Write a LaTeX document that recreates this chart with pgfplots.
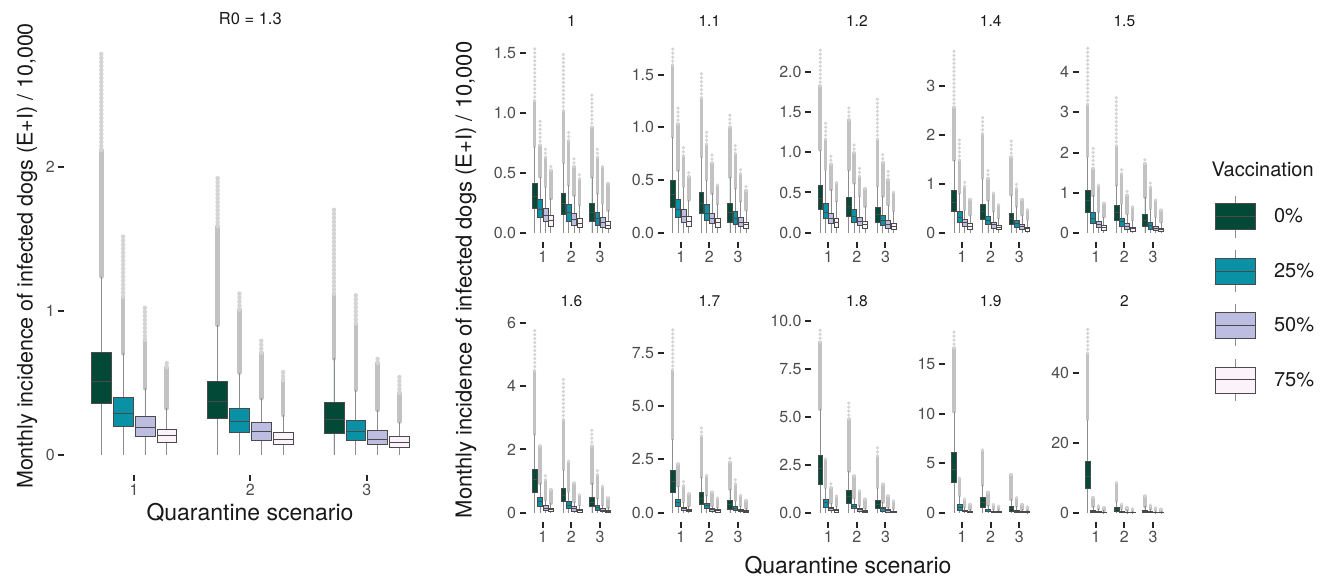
\documentclass[border=0pt]{standalone}
\usepackage{fontspec}
\setmainfont{TeX Gyre Heros}
\usepackage{pgfplots}
\usepackage{pgfplotstable}
\pgfplotsset{compat=1.18}
\usepgfplotslibrary{statistics}

\definecolor{v0}{HTML}{024A37}
\definecolor{v1}{HTML}{0A91A5}
\definecolor{v2}{HTML}{BDBDE2}
\definecolor{v3}{HTML}{FCF3FA}
\definecolor{boxedge}{HTML}{4A4A4A}
\definecolor{whisk}{HTML}{8C8C8C}
\definecolor{densec}{HTML}{C2C2C2}
\definecolor{sparsec}{HTML}{D4D4D4}
\definecolor{tlab}{HTML}{4D4D4D}
\definecolor{tickc}{HTML}{262626}

\newcommand\fs[1]{\fontsize{#1}{#1}\selectfont}

% columns: x lw lq med uq uw dn(dense outliers top) sp(sparse outliers top)
\pgfplotstableread{
x lw lq med uq uw dn sp
0.71875 0 0.359 0.514 0.714 1.24 2.12 2.79
0.90625 0 0.20 0.29 0.401 0.707 1.10 1.52
1.09375 0 0.127 0.19 0.267 0.463 0.80 1.05
1.28125 0 0.086 0.132 0.181 0.324 0.61 0.65
1.71875 0 0.253 0.371 0.514 0.904 1.59 1.93
1.90625 0 0.155 0.232 0.324 0.572 1.01 1.14
2.09375 0 0.104 0.16 0.225 0.394 0.71 0.82
2.28125 0 0.074 0.111 0.158 0.278 0.52 0.58
2.71875 0 0.151 0.248 0.364 0.672 1.12 1.73
2.90625 0 0.10 0.162 0.239 0.452 0.915 1.12
3.09375 0 0.074 0.111 0.169 0.313 0.64 0.68
3.28125 0 0.053 0.086 0.127 0.232 0.43 0.56
}\Ta
\pgfplotstableread{
x lw lq med uq uw dn sp
0.71875 0 0.203 0.30 0.417 0.717 1.10 1.54
0.90625 0 0.133 0.194 0.278 0.467 0.73 0.95
1.09375 0 0.092 0.147 0.203 0.383 0.63 0.72
1.28125 0 0.056 0.10 0.147 0.286 0.52 0.58
1.71875 0 0.156 0.244 0.328 0.583 1.02 1.50
1.90625 0 0.10 0.167 0.239 0.397 0.77 0.86
2.09375 0 0.064 0.111 0.167 0.314 0.55 0.63
2.28125 0 0.044 0.078 0.119 0.23 0.45 0.49
2.71875 0 0.092 0.167 0.244 0.467 0.88 1.16
2.90625 0 0.064 0.119 0.175 0.328 0.63 0.72
3.09375 0 0.05 0.083 0.128 0.244 0.55 0.58
3.28125 0 0.036 0.064 0.10 0.189 0.41 0.44
}\Tb
\pgfplotstableread{
x lw lq med uq uw dn sp
0.71875 0 0.244 0.36 0.50 0.906 1.59 1.75
0.90625 0 0.15 0.225 0.319 0.594 1.03 1.19
1.09375 0 0.10 0.156 0.225 0.4375 0.73 0.83
1.28125 0 0.0625 0.11 0.156 0.3125 0.53 0.58
1.71875 0 0.181 0.28 0.384 0.72 1.28 1.54
1.90625 0 0.119 0.1875 0.266 0.50 0.84 0.97
2.09375 0 0.0875 0.1375 0.1875 0.375 0.66 0.75
2.28125 0 0.056 0.094 0.14 0.27 0.45 0.48
2.71875 0 0.10 0.19 0.28 0.53 1.0 1.12
2.90625 0 0.078 0.131 0.20 0.42 0.75 0.84
3.09375 0 0.0625 0.10 0.147 0.297 0.56 0.62
3.28125 0 0.047 0.078 0.103 0.22 0.40 0.45
}\Tc
\pgfplotstableread{
x lw lq med uq uw dn sp
0.71875 0 0.298 0.42 0.591 1.03 1.82 2.29
0.90625 0 0.174 0.256 0.364 0.785 1.16 1.40
1.09375 0 0.124 0.174 0.24 0.537 0.85 0.95
1.28125 0 0.074 0.124 0.174 0.39 0.62 0.66
1.71875 0 0.207 0.33 0.442 0.785 1.40 1.57
1.90625 0 0.132 0.207 0.289 0.62 0.99 1.12
2.09375 0 0.091 0.145 0.198 0.455 0.70 0.81
2.28125 0 0.058 0.103 0.145 0.33 0.545 0.58
2.71875 0 0.132 0.227 0.318 0.58 1.16 1.67
2.90625 0 0.091 0.153 0.219 0.455 0.87 0.99
3.09375 0 0.062 0.103 0.157 0.35 0.66 0.76
3.28125 0 0.041 0.083 0.116 0.27 0.50 0.54
}\Td
\pgfplotstableread{
x lw lq med uq uw dn sp
0.71875 0 0.44 0.62 0.865 1.49 2.57 3.78
0.90625 0 0.216 0.318 0.44 0.81 1.49 1.96
1.09375 0 0.135 0.203 0.27 0.473 0.95 1.05
1.28125 0 0.081 0.135 0.19 0.37 0.68 0.74
1.71875 0 0.27 0.44 0.588 1.11 2.03 2.40
1.90625 0 0.169 0.25 0.338 0.676 1.11 1.28
2.09375 0 0.101 0.169 0.223 0.44 0.81 0.88
2.28125 0 0.068 0.115 0.155 0.30 0.57 0.64
2.71875 0 0.169 0.284 0.405 0.78 1.55 1.93
2.90625 0 0.115 0.182 0.257 0.54 0.91 1.01
3.09375 0 0.068 0.122 0.169 0.37 0.68 0.74
3.28125 0 0.04 0.081 0.122 0.27 0.47 0.51
}\Te
\pgfplotstableread{
x lw lq med uq uw dn sp
0.71875 0 0.52 0.80 1.07 1.90 3.2 4.6
0.90625 0 0.23 0.355 0.50 0.93 1.6 2.13
1.09375 0 0.13 0.207 0.29 0.52 1.18 1.26
1.28125 0 0.066 0.13 0.19 0.40 0.73 0.81
1.71875 0 0.314 0.50 0.686 1.18 2.17 3.37
1.90625 0 0.165 0.27 0.372 0.727 1.47 1.64
2.09375 0 0.10 0.165 0.248 0.48 0.93 1.06
2.28125 0 0.05 0.10 0.149 0.31 0.64 0.69
2.71875 0 0.174 0.314 0.455 0.89 1.72 1.88
2.90625 0 0.10 0.19 0.273 0.60 1.14 1.26
3.09375 0 0.066 0.116 0.174 0.40 0.81 0.89
3.28125 0 0.033 0.074 0.116 0.27 0.56 0.64
}\Tf
\pgfplotstableread{
x lw lq med uq uw dn sp
0.71875 0 0.635 1.06 1.376 2.47 4.48 5.82
0.90625 0 0.212 0.35 0.487 0.93 2.1 2.2
1.09375 0 0.085 0.148 0.222 0.40 1.04 1.25
1.28125 0 0.042 0.095 0.148 0.30 0.72 0.77
1.71875 0 0.35 0.56 0.77 1.35 2.94 4.26
1.90625 0 0.138 0.243 0.37 0.67 1.62 1.72
2.09375 0 0.063 0.127 0.19 0.35 0.93 1.04
2.28125 0 0.02 0.074 0.116 0.24 0.56 0.67
2.71875 0 0.19 0.328 0.476 0.93 2.1 2.68
2.90625 0 0.085 0.17 0.243 0.455 1.2 1.35
3.09375 0 0.042 0.085 0.127 0.24 0.83 0.93
3.28125 0 0.01 0.053 0.085 0.17 0.46 0.51
}\Tg
\pgfplotstableread{
x lw lq med uq uw dn sp
0.71875 0 0.96 1.45 2.0 3.45 6.7 8.65
0.90625 0 0.31 0.50 0.65 1.27 2.28 2.44
1.09375 0 0.11 0.186 0.264 0.5 1.27 1.5
1.28125 0 0.062 0.124 0.186 0.34 0.88 1.04
1.71875 0 0.42 0.68 0.963 1.66 3.6 3.99
1.90625 0 0.217 0.34 0.45 0.81 1.74 1.89
2.09375 0 0.093 0.155 0.217 0.34 0.96 1.04
2.28125 0 0.047 0.108 0.155 0.26 0.68 0.81
2.71875 0 0.186 0.37 0.575 1.12 2.36 2.67
2.90625 0 0.124 0.217 0.31 0.57 1.35 1.58
3.09375 0 0.062 0.11 0.155 0.31 0.81 0.96
3.28125 0 0.031 0.078 0.108 0.217 0.57 0.65
}\Th
\pgfplotstableread{
x lw lq med uq uw dn sp
0.71875 0 1.48 2.3 3.0 5.39 8.87 9.6
0.90625 0 0.31 0.52 0.70 1.3 2.78 2.95
1.09375 0 0.12 0.21 0.30 0.52 1.3 1.56
1.28125 0 0.052 0.12 0.174 0.35 0.87 1.04
1.71875 0 0.52 0.83 1.165 2.17 4.87 5.74
1.90625 0 0.21 0.31 0.435 0.78 1.91 2.09
2.09375 0 0.087 0.157 0.226 0.38 1.13 1.3
2.28125 0 0.035 0.087 0.139 0.26 0.70 0.78
2.71875 0 0.226 0.435 0.643 1.3 2.96 3.51
2.90625 0 0.104 0.21 0.31 0.556 1.48 1.65
3.09375 0 0.052 0.104 0.157 0.31 0.87 1.04
3.28125 0 0.017 0.052 0.104 0.21 0.61 0.70
}\Ti
\pgfplotstableread{
x lw lq med uq uw dn sp
0.71875 0 3.05 4.4 6.06 10.2 16.6 18.6
0.90625 0 0.284 0.53 0.816 1.7 3.48 3.65
1.09375 0 0.106 0.2 0.284 0.57 1.35 1.52
1.28125 0 0.035 0.106 0.177 0.35 0.82 0.99
1.71875 0 0.57 1.06 1.52 2.77 6.31 6.67
1.90625 0 0.142 0.284 0.39 0.82 2.06 2.41
2.09375 0 0.07 0.106 0.177 0.35 0.82 0.99
2.28125 0 0.035 0.07 0.142 0.28 0.64 0.82
2.71875 0 0.142 0.39 0.64 1.35 3.83 4.0
2.90625 0 0.07 0.177 0.284 0.64 1.52 1.7
3.09375 0 0.035 0.106 0.142 0.35 0.82 0.99
3.28125 0 0.017 0.05 0.106 0.25 0.57 0.71
}\Tj
\pgfplotstableread{
x lw lq med uq uw dn sp
0.71875 0 7.14 10.5 14.8 26.7 45.7 52.9
0.90625 0 0.19 0.38 0.67 1.9 4.3 4.8
1.09375 0 0.1 0.19 0.38 0.95 1.9 2.4
1.28125 0 0.05 0.1 0.28 0.67 1.43 1.7
1.71875 0 0.48 0.95 1.71 3.33 8.57 9.5
1.90625 0 0.1 0.28 0.48 1.14 2.4 2.86
2.09375 0 0.05 0.19 0.28 0.76 1.43 1.9
2.28125 0 0.03 0.1 0.19 0.48 1.14 1.43
2.71875 0 0.19 0.48 0.76 1.9 4.76 5.7
2.90625 0 0.1 0.19 0.38 0.95 2.1 2.4
3.09375 0 0.05 0.1 0.19 0.57 1.33 1.6
3.28125 0 0.02 0.05 0.1 0.38 0.95 1.24
}\Tk

\pgfplotsset{
  base/.style={scale only axis, xmin=0.4, xmax=3.6, xtick={1,2,3}, xticklabels={1,2,3},
    axis lines*=left, axis line style={draw=none},
    tick align=outside, major tick length=6pt,
    tick style={line width=2pt, color=tickc},
    ticklabel style={font=\fs{16}, text=tlab},
    every axis title/.style={at={(0.5,1)}, anchor=base, inner sep=0pt, yshift=12pt,
      font=\fs{15.5}, text=black!90},
    boxplot/draw direction=y},
  pnl/.style={base, width=91.5pt, height=203pt, anchor=north west},
  boxst/.style={forget plot, boxplot/box extend=0.17, boxplot/whisker extend=0,
    draw=boxedge, line width=0.5pt,
    boxplot/every whisker/.style={draw=whisk, line width=0.7pt},
    boxplot/every median/.style={draw=boxedge, line width=0.9pt}},
  streamA/.style={forget plot, draw=densec, line width=#1, line cap=round, mark=none},
  streamB/.style={forget plot, draw=sparsec, line width=#1, line cap=round, dash pattern=on 0pt off 4pt, mark=none},
  legkey/.style={legend image code/.code={%
    \draw[draw=whisk, line width=0.7pt] (20pt,-21pt) -- (20pt,21pt);
    \draw[fill=#1, draw=boxedge, line width=0.5pt] (0pt,-13pt) rectangle (40pt,13pt);
    \draw[draw=boxedge, line width=0.9pt] (0pt,0pt) -- (40pt,0pt);}}
}

% one box, its five values taken from row #2 of table #1
\newcommand\bx[3]{%
  \pgfplotstablegetelem{#2}{lw}\of#1\let\vlw\pgfplotsretval
  \pgfplotstablegetelem{#2}{lq}\of#1\let\vlq\pgfplotsretval
  \pgfplotstablegetelem{#2}{med}\of#1\let\vmed\pgfplotsretval
  \pgfplotstablegetelem{#2}{uq}\of#1\let\vuq\pgfplotsretval
  \pgfplotstablegetelem{#2}{uw}\of#1\let\vuw\pgfplotsretval
  \pgfplotstablegetelem{#2}{x}\of#1\let\vx\pgfplotsretval
  \edef\tmp{\noexpand\addplot[boxst, fill=#3,
     boxplot prepared={draw position=\vx, lower whisker=\vlw, lower quartile=\vlq,
       median=\vmed, upper quartile=\vuq, upper whisker=\vuw}] coordinates {};}%
  \tmp}

\newcommand\panel[2]{%
  \addplot[streamA=#2, quiver={u=0, v=\thisrow{dn}-\thisrow{uw}}] table[x=x, y=uw] {#1};
  \addplot[streamB=#2, quiver={u=0, v=\thisrow{sp}-\thisrow{dn}}] table[x=x, y=dn] {#1};
  \pgfplotsinvokeforeach{0,4,8}{\bx{#1}{##1}{v0}}
  \pgfplotsinvokeforeach{1,5,9}{\bx{#1}{##1}{v1}}
  \pgfplotsinvokeforeach{2,6,10}{\bx{#1}{##1}{v2}}
  \pgfplotsinvokeforeach{3,7,11}{\bx{#1}{##1}{v3}}
}

\begin{document}
\begin{tikzpicture}
\useasboundingbox (0pt,0pt) rectangle (1333pt,577pt);

% left panel
\begin{axis}[base, width=372.3pt, height=441.4pt, at={(64.2pt,543.4pt)}, anchor=north west,
  ymin=-0.1395, ymax=2.9295, ytick={0,1,2}, yticklabels={0,1,2},
  title={R0 = 1.3},
  every axis title/.style={at={(0.5,1)}, anchor=base, inner sep=0pt, yshift=9pt,
      font=\fs{16.5}, text=black!90}]
\panel{\Ta}{4.5pt}
\end{axis}

% row 1
\begin{axis}[pnl, at={(525.6pt,538pt)}, ymin=-0.077, ymax=1.617,
  ytick={0,0.5,1,1.5}, yticklabels={0.0,0.5,1.0,1.5}, title={1}]
\panel{\Tb}{3.5pt}
\end{axis}
\begin{axis}[pnl, at={(663.6pt,538pt)}, ymin=-0.0875, ymax=1.8375,
  ytick={0,0.5,1,1.5}, yticklabels={0.0,0.5,1.0,1.5}, title={1.1}]
\panel{\Tc}{3.5pt}
\end{axis}
\begin{axis}[pnl, at={(811.1pt,538pt)}, ymin=-0.1145, ymax=2.4045,
  ytick={0,0.5,1,1.5,2}, yticklabels={0.0,0.5,1.0,1.5,2.0}, title={1.2}]
\panel{\Td}{3.5pt}
\end{axis}
\begin{axis}[pnl, at={(944.9pt,538pt)}, ymin=-0.189, ymax=3.969,
  ytick={0,1,2,3}, yticklabels={0,1,2,3}, title={1.4}]
\panel{\Te}{3.5pt}
\end{axis}
\begin{axis}[pnl, at={(1078.6pt,538pt)}, ymin=-0.23, ymax=4.83,
  ytick={0,1,2,3,4}, yticklabels={0,1,2,3,4}, title={1.5}]
\panel{\Tf}{3.5pt}
\end{axis}

% row 2
\begin{axis}[pnl, at={(525.6pt,258pt)}, ymin=-0.291, ymax=6.111,
  ytick={0,2,4,6}, yticklabels={0,2,4,6}, title={1.6}]
\panel{\Tg}{3.5pt}
\end{axis}
\begin{axis}[pnl, at={(663.6pt,258pt)}, ymin=-0.4325, ymax=9.0825,
  ytick={0,2.5,5,7.5}, yticklabels={0.0,2.5,5.0,7.5}, title={1.7}]
\panel{\Th}{3.5pt}
\end{axis}
\begin{axis}[pnl, at={(811.1pt,258pt)}, ymin=-0.48, ymax=10.08,
  ytick={0,2.5,5,7.5,10}, yticklabels={0.0,2.5,5.0,7.5,10.0}, title={1.8}]
\panel{\Ti}{3.5pt}
\end{axis}
\begin{axis}[pnl, at={(944.9pt,258pt)}, ymin=-0.93, ymax=19.53,
  ytick={0,5,10,15}, yticklabels={0,5,10,15}, title={1.9}]
\panel{\Tj}{3.5pt}
\end{axis}
\begin{axis}[pnl, at={(1078.6pt,258pt)}, ymin=-2.645, ymax=55.545,
  ytick={0,20,40}, yticklabels={0,20,40}, title={2},
  legend style={at={(axis description cs:1.4907,1.6108)}, anchor=north west, draw=none, fill=none,
    inner sep=0pt, row sep=11.7pt, column sep=16pt, font=\fs{20}, text=black!90},
  legend cell align=left]
\addlegendimage{legkey=v0}\addlegendentry{0\%}
\addlegendimage{legkey=v1}\addlegendentry{25\%}
\addlegendimage{legkey=v2}\addlegendentry{50\%}
\addlegendimage{legkey=v3}\addlegendentry{75\%}
\panel{\Tk}{3.5pt}
\end{axis}

% titles
\node[rotate=90, font=\fs{21.5}, text=black!90] at (27pt,321pt) {Monthly incidence of infected dogs (E+I) / 10,000};
\node[rotate=90, font=\fs{22}, text=black!90] at (466pt,297pt) {Monthly incidence of infected dogs (E+I) / 10,000};
\node[font=\fs{23}, anchor=base, text=black!90] at (250pt,56pt) {Quarantine scenario};
\node[font=\fs{23}, anchor=base, text=black!90] at (848pt,3.5pt) {Quarantine scenario};
\node[font=\fs{20}, anchor=base west, text=black!90] at (1208pt,400pt) {Vaccination};
\end{tikzpicture}
\end{document}
